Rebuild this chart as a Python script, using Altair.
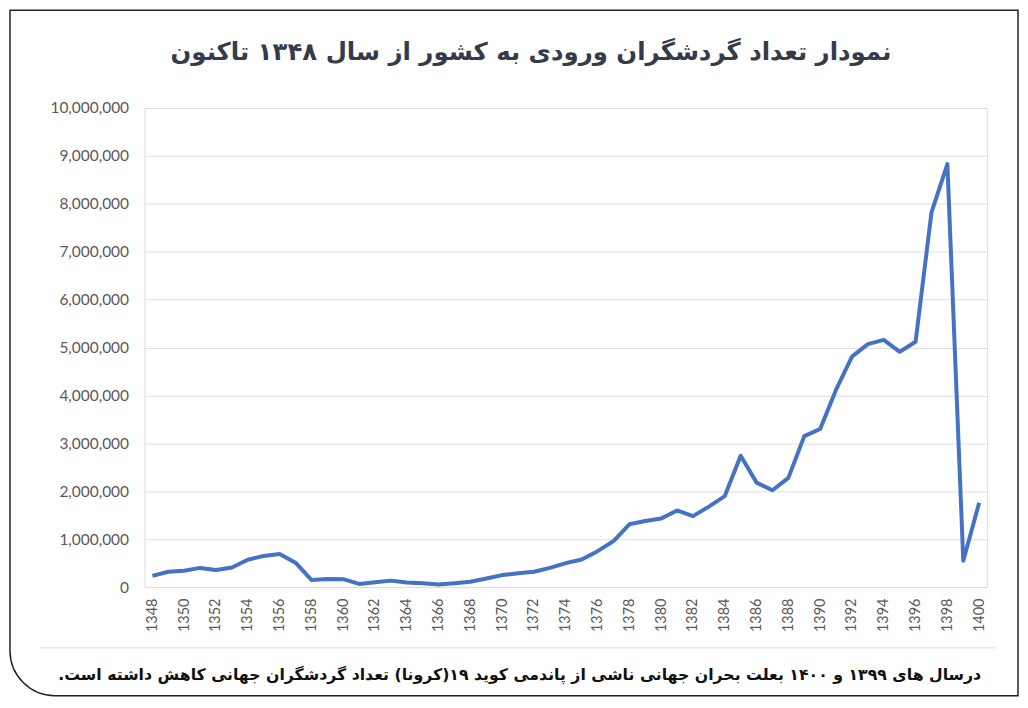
import altair as alt
import pandas as pd

# ---- data ----
years = list(range(1348, 1401))
visitors = [
    235000, 320000, 340000, 400000, 355000, 410000, 570000, 650000, 690000, 510000,
    150000, 170000, 165000, 65000, 100000, 135000, 95000, 80000, 55000, 80000,
    110000, 180000, 250000, 290000, 320000, 400000, 500000, 575000, 750000, 960000,
    1310000, 1380000, 1430000, 1600000, 1480000, 1680000, 1900000, 2740000, 2180000, 2020000,
    2280000, 3150000, 3300000, 4120000, 4810000, 5070000, 5160000, 4910000, 5120000, 7820000,
    8830000, 550000, 1760000,
]
x_tick_years = [1348, 1350, 1352, 1354, 1356, 1358, 1360, 1362, 1364, 1366, 1368, 1370, 1372,
                1374, 1376, 1378, 1380, 1382, 1384, 1386, 1388, 1390, 1392, 1394, 1396, 1398, 1400]
y_ticks = [0, 1000000, 2000000, 3000000, 4000000, 5000000, 6000000, 7000000, 8000000, 9000000, 10000000]

title_text = "نمودار تعداد گردشگران ورودی به کشور از سال ۱۳۴۸ تاکنون"
note_text = "درسال های ۱۳۹۹ و ۱۴۰۰ بعلت بحران جهانی ناشی از پاندمی کوید ۱۹(کرونا) تعداد گردشگران جهانی کاهش داشته است.\u200f"

df = pd.DataFrame({"year": years, "visitors": visitors})

W, H = 846, 481
LABEL_FONT = "Lato"
LABEL_COLOR = "#595959"

line = alt.Chart(df).mark_line(color="#4472C4", strokeWidth=4, strokeJoin="round").encode(
    x=alt.X(
        "year:Q",
        scale=alt.Scale(domain=[1347.5, 1400.5], nice=False, zero=False),
        axis=alt.Axis(values=x_tick_years, format="d", labelAngle=270, grid=False, ticks=False,
                      domain=False, labelPadding=11, labelFont=LABEL_FONT, labelFontSize=14.5,
                      labelColor=LABEL_COLOR, title=None),
    ),
    y=alt.Y(
        "visitors:Q",
        scale=alt.Scale(domain=[0, 10000000], nice=False),
        axis=alt.Axis(values=y_ticks, format=",.0f", grid=True, gridColor="#dedede", gridWidth=1,
                      ticks=False, domain=False, labelPadding=16, labelFont=LABEL_FONT,
                      labelFontSize=15.5, labelColor=LABEL_COLOR, title=None),
    ),
)

frame = alt.Chart(pd.DataFrame({"a": [0]})).mark_rect(
    fill="transparent", stroke="#222222", strokeWidth=1.5, cornerRadiusBottomLeft=45
).encode(x=alt.value(-135), x2=alt.value(877), y=alt.value(-98), y2=alt.value(590))

sep = alt.Chart(pd.DataFrame({"a": [0]})).mark_rule(color="#dddddd", strokeWidth=1).encode(
    x=alt.value(-105), x2=alt.value(855), y=alt.value(542)
)

title = alt.Chart(pd.DataFrame({"t": [title_text]})).mark_text(
    align="center", baseline="middle", font="DejaVu Sans", fontWeight="bold", fontSize=24.5,
    color="#363b4c"
).encode(text="t:N", x=alt.value(388), y=alt.value(-55))

note = alt.Chart(pd.DataFrame({"t": [note_text]})).mark_text(
    align="right", baseline="middle", font="DejaVu Sans", fontWeight="bold", fontSize=15.8,
    color="#111111"
).encode(text="t:N", x=alt.value(840), y=alt.value(569))

chart = alt.layer(sep, line, title, note, frame).properties(
    width=W,
    height=H,
    autosize=alt.AutoSizeParams(type="none"),
    padding={"left": 137, "top": 99, "right": 33, "bottom": 110},
).configure_view(stroke=None).configure(background="white")

chart.save("out.html", embed_options={"renderer": "svg", "actions": False})
